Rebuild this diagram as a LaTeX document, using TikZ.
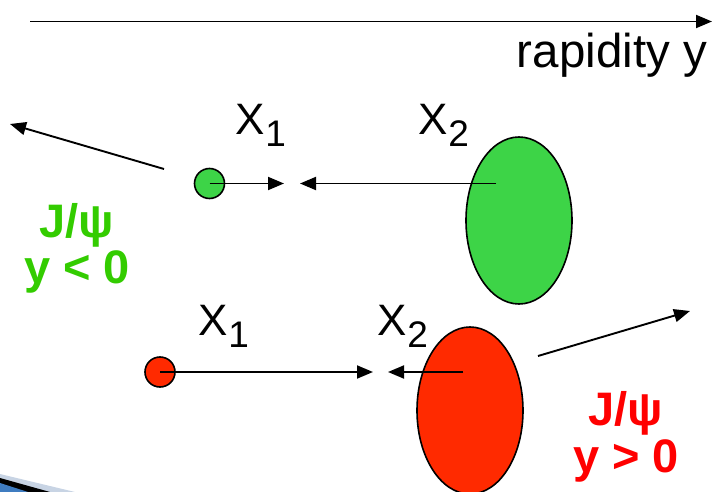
\documentclass[tikz,border=0pt]{standalone}
\usepackage{fontspec}
\setmainfont{Liberation Sans}
\usetikzlibrary{arrows.meta,shapes.geometric}
\definecolor{gfill}{HTML}{3DD447}
\definecolor{rfill}{HTML}{FF2A00}
\definecolor{gtext}{HTML}{33CC00}
\definecolor{rtext}{HTML}{FF0000}
\definecolor{slideblue}{HTML}{3F7CC0}
\definecolor{slidefade}{HTML}{C8D4E4}
\newcommand\subdig[1]{\raisebox{-12pt}{\fontsize{37}{37}\selectfont #1}}
\begin{document}
\begin{tikzpicture}[x=1pt,y=-1pt,line width=1.9pt,
  >={Triangle[length=16pt,width=13pt]},
  parton/.style={circle,draw=black,line width=1.6pt,minimum size=30pt,inner sep=0pt},
  nucleus/.style={ellipse,draw=black,line width=1.6pt,minimum width=106pt,minimum height=167pt,inner sep=0pt},
  xlabel/.style={anchor=base west,font=\fontsize{44}{44}\selectfont,inner sep=0pt},
  jpsi/.style={anchor=base,font=\bfseries\fontsize{47}{47}\selectfont,inner sep=0pt}]
\useasboundingbox (0,0) rectangle (715,492);

% slide decoration bottom-left
\fill[slidefade] (0,474) -- (75,492) -- (0,492) -- cycle;
\fill[black] (0,478) -- (50,492) -- (0,492) -- cycle;
\fill[slideblue] (0,483) -- (28,492) -- (0,492) -- cycle;

% rapidity axis
\coordinate (ax0) at (30,21.5);
\coordinate (ax1) at (712,21.5);
\draw[->] (ax0) -- (ax1);
\node[anchor=base east,font=\fontsize{47.5}{47.5}\selectfont,inner sep=0pt] (rap) at (708,68) {rapidity y};

% upper (green) case
\node[nucleus,fill=gfill] (gA) at (519,220.5) {};
\node[parton,fill=gfill] (gp) at (209.5,183.5) {};
\coordinate (gpc) at (209.5,183.5);
\coordinate (gAc) at (496,183.5);
\coordinate (g1) at (284,183.5);
\coordinate (g2) at (300,183.5);
\draw[->] (gpc) -- (g1);
\draw[->] (gAc) -- (g2);
\node[xlabel] (gx1) at (235,135) {X\subdig{1}};
\node[xlabel] (gx2) at (418,135) {X\subdig{2}};
\coordinate (gj0) at (164,169);
\coordinate (gj1) at (10,124);
\draw[->] (gj0) -- (gj1);
\node[jpsi,text=gtext] (gjl) at (77,237) {J/ψ};
\node[jpsi,text=gtext] (gyl) at (77,283) {y < 0};

% lower (red) case
\node[nucleus,fill=rfill] (rA) at (470,410.5) {};
\node[parton,fill=rfill] (rp) at (160,372) {};
\coordinate (rpc) at (160,372);
\coordinate (rAc) at (463,372);
\coordinate (r1) at (373,372);
\coordinate (r2) at (388,372);
\draw[->] (rpc) -- (r1);
\draw[->] (rAc) -- (r2);
\node[xlabel] (rx1) at (198,335) {X\subdig{1}};
\node[xlabel] (rx2) at (377,335) {X\subdig{2}};
\coordinate (rj0) at (538,356);
\coordinate (rj1) at (690,311);
\draw[->] (rj0) -- (rj1);
\node[jpsi,text=rtext] (rjl) at (626,425) {J/ψ};
\node[jpsi,text=rtext] (ryl) at (626,472) {y > 0};
\end{tikzpicture}
\end{document}
